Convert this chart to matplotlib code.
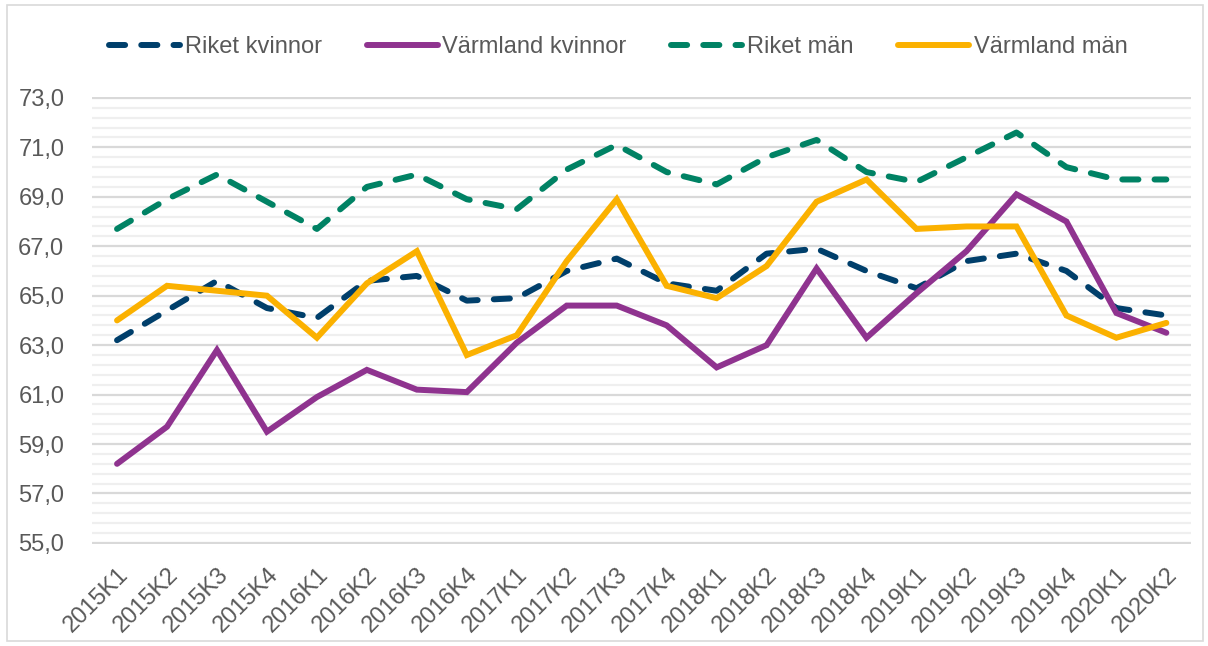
import matplotlib
matplotlib.use("Agg")
import matplotlib.pyplot as plt
from matplotlib.ticker import FixedLocator, FuncFormatter
from matplotlib.patches import Rectangle

quarters = ["2015K1", "2015K2", "2015K3", "2015K4", "2016K1", "2016K2", "2016K3", "2016K4",
            "2017K1", "2017K2", "2017K3", "2017K4", "2018K1", "2018K2", "2018K3", "2018K4",
            "2019K1", "2019K2", "2019K3", "2019K4", "2020K1", "2020K2"]

riket_kvinnor = [63.2, 64.4, 65.6, 64.5, 64.1, 65.6, 65.8, 64.8, 64.9, 66.0, 66.5, 65.5,
                 65.2, 66.7, 66.9, 66.0, 65.3, 66.4, 66.7, 66.0, 64.5, 64.2]
varmland_kvinnor = [58.2, 59.7, 62.8, 59.5, 60.9, 62.0, 61.2, 61.1, 63.1, 64.6, 64.6, 63.8,
                    62.1, 63.0, 66.1, 63.3, 65.1, 66.8, 69.1, 68.0, 64.3, 63.5]
riket_man = [67.7, 68.9, 69.9, 68.8, 67.7, 69.4, 69.9, 68.9, 68.5, 70.1, 71.1, 70.0,
             69.5, 70.6, 71.3, 70.0, 69.6, 70.6, 71.6, 70.2, 69.7, 69.7]
varmland_man = [64.0, 65.4, 65.2, 65.0, 63.3, 65.5, 66.8, 62.6, 63.4, 66.4, 68.9, 65.4,
                64.9, 66.2, 68.8, 69.7, 67.7, 67.8, 67.8, 64.2, 63.3, 63.9]

series_names = ["Riket kvinnor", "Värmland kvinnor", "Riket män", "Värmland män"]
y_major = [55, 57, 59, 61, 63, 65, 67, 69, 71, 73]

plt.rcParams['font.family'] = ['Liberation Sans', 'DejaVu Sans']

fig = plt.figure(figsize=(12.08, 6.46), dpi=100)
ax = fig.add_axes([0.0762, 0.158, 0.910, 0.692])

x = list(range(len(quarters)))
lw = 4.3
dash = (2.7, 2.7)
l1, = ax.plot(x, riket_kvinnor, color="#003f6b", lw=lw, dashes=dash,
              dash_capstyle='round', label=series_names[0], zorder=3)
l2, = ax.plot(x, varmland_kvinnor, color="#8f338f", lw=lw,
              solid_capstyle='round', solid_joinstyle='miter', label=series_names[1], zorder=3)
l3, = ax.plot(x, riket_man, color="#008264", lw=lw, dashes=dash,
              dash_capstyle='round', label=series_names[2], zorder=3)
l4, = ax.plot(x, varmland_man, color="#fbb100", lw=lw,
              solid_capstyle='round', solid_joinstyle='miter', label=series_names[3], zorder=4)

ax.set_xlim(-0.5, len(quarters) - 0.5)
ax.set_ylim(54.96, 73.04)
ax.yaxis.set_major_locator(FixedLocator(y_major))
ax.yaxis.set_minor_locator(FixedLocator([55 + 0.4 * k for k in range(46)]))
ax.yaxis.set_major_formatter(FuncFormatter(lambda v, p: f"{v:.1f}".replace(".", ",")))
ax.set_xticks(x)
ax.set_xticklabels(quarters, rotation=45, ha='right', rotation_mode='anchor')

ax.grid(which='major', axis='y', color='#d9d9d9', lw=1.6, zorder=0)
ax.grid(which='minor', axis='y', color='#efefef', lw=1.6, zorder=0)
ax.set_axisbelow(True)
for s in ax.spines.values():
    s.set_visible(False)
ax.tick_params(axis='both', which='both', length=0, colors='#595959', labelsize=17)
ax.tick_params(axis='y', pad=20)
ax.tick_params(axis='x', pad=14)

leg = fig.legend(handles=[l1, l2, l3, l4], loc='center', bbox_to_anchor=(0.512, 0.927),
                 ncol=4, frameon=False, fontsize=17, handlelength=3.0, handletextpad=0.2,
                 columnspacing=1.9, labelcolor='#595959')

fig.patches.append(Rectangle((0.006, 0.008), 0.99, 0.985, transform=fig.transFigure,
                             fill=False, edgecolor='#d9d9d9', lw=1.2))

fig.savefig("out.png", dpi=100)
